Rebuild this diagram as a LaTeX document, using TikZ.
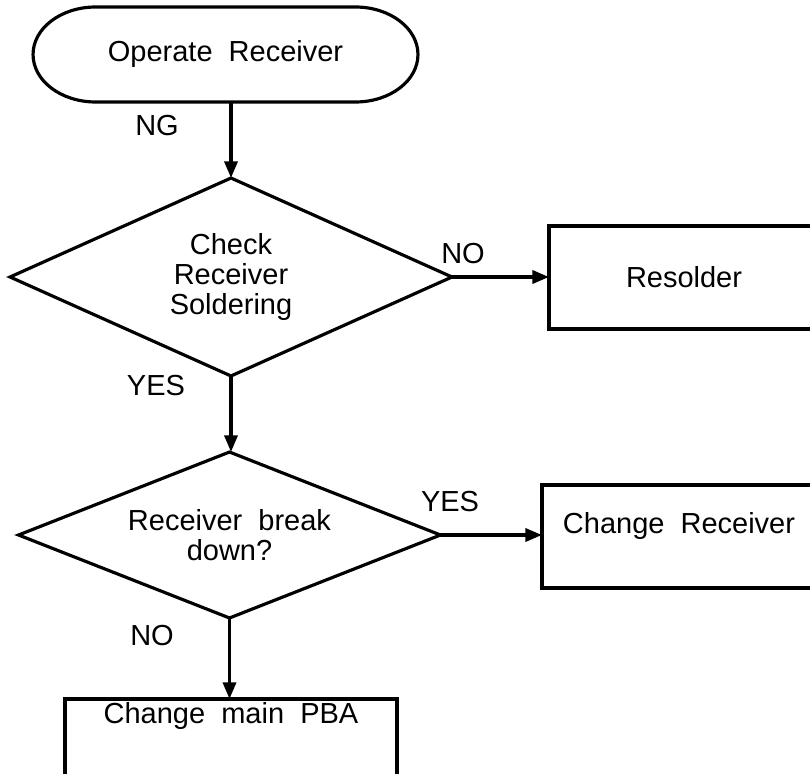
\documentclass[tikz,border=0pt]{standalone}
\usepackage{fontspec}
\setmainfont{Liberation Sans}
\usetikzlibrary{arrows.meta, shapes.geometric}

\tikzset{
  decision/.style={diamond, draw, line width=1.8pt, inner sep=0pt, outer sep=0pt, align=center},
  process/.style={rectangle, draw, line width=2.3pt, inner sep=0pt, outer sep=0pt, align=center},
  flow/.style={-{Triangle[length=9.5pt,width=7.4pt]}, line width=2pt},
}

\begin{document}
\begin{tikzpicture}[x=0.02cm, y=-0.02cm, font=\fontsize{16.5pt}{17pt}\selectfont]
\useasboundingbox (0,0) rectangle (810,773);
\clip (0,0) rectangle (810,773);

\node (start) [minimum width=7.7cm, minimum height=1.9cm, outer sep=0pt] at (225.5,54.5) {Operate~~Receiver};
\draw[line width=1.8pt] ([xshift=-2.6cm]start.north) -- ([xshift=2.6cm]start.north)
    arc[start angle=90, end angle=-90, x radius=1.25cm, y radius=0.95cm]
    -- ([xshift=-2.6cm]start.south)
    arc[start angle=270, end angle=90, x radius=1.25cm, y radius=0.95cm] -- cycle;

\node (check) [decision, aspect=2.23, minimum width=8.84cm, minimum height=3.96cm] at (231,277) {Check\\Receiver\\Soldering};
\node (resolder) [process, minimum width=5.4cm, minimum height=2.06cm] at (684,277.5) {Resolder};

\node (brk) [decision, aspect=2.54, minimum width=8.44cm, minimum height=3.32cm] at (229.5,535) {Receiver~~break\\down?};
\node (chgrec) [process, minimum width=5.48cm, minimum height=2.06cm, text depth=15pt] at (679,536.5) {Change~~Receiver};

\node (pba) [process, anchor=north, minimum width=6.64cm, text height=12pt, text depth=2cm, inner ysep=2pt] at (231,699) {Change~~main~~PBA};

\draw [flow] (start.south -| check.north) -- (check.north);
\draw [flow] (check.east) -- (check.east -| resolder.west);
\draw [flow] (check.south) -- (check.south |- brk.north);
\draw [flow] (brk.east) -- (brk.east -| chgrec.west);
\draw [flow] (brk.south) -- (brk.south |- pba.north);

\node (ng) at (157,126) {NG};
\node (no1) at (463,254) {NO};
\node (yes1) at (156,386) {YES};
\node (yes2) at (450,502) {YES};
\node (no2) at (152,636) {NO};
\end{tikzpicture}
\end{document}
